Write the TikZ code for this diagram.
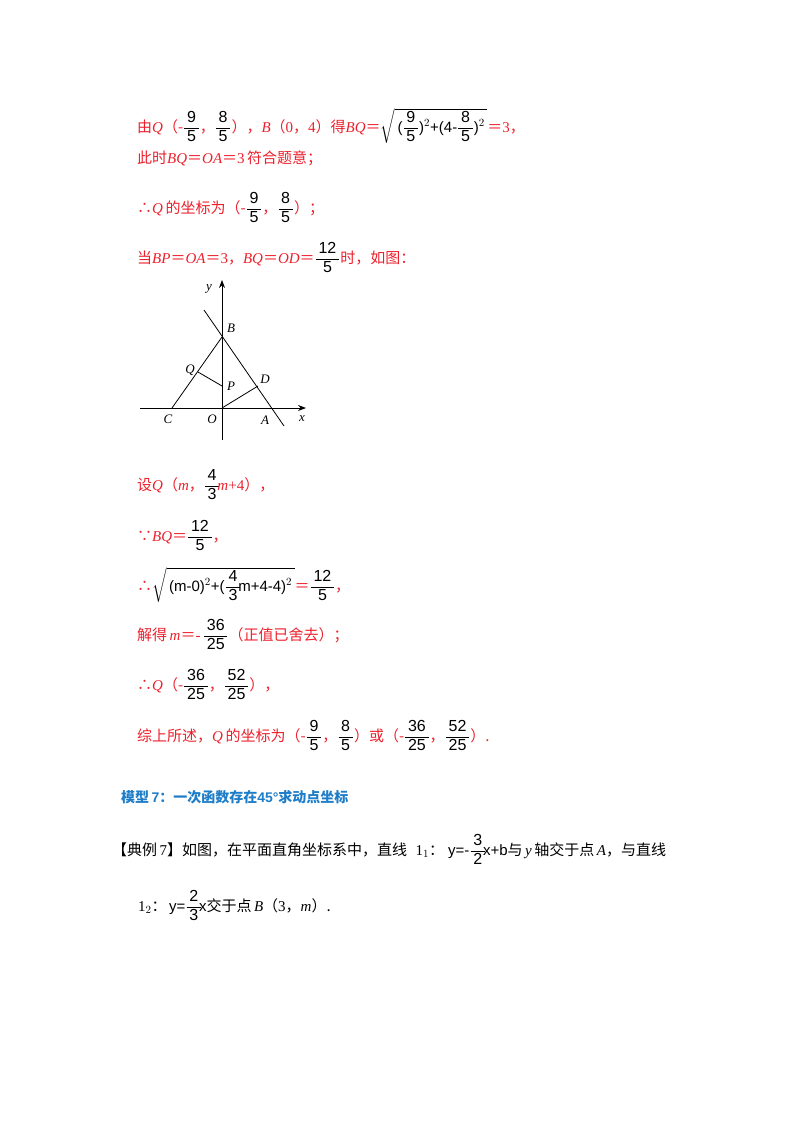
\documentclass[tikz,border=0pt]{standalone}
\usepackage{amsmath}
\usepackage{fontspec}
\setmainfont{Liberation Serif}
\setsansfont{Liberation Sans}
\newfontfamily\cjk{Noto Sans CJK SC}
\newfontfamily\cjkb{Noto Sans CJK SC Bold}
\usetikzlibrary{arrows.meta}
\definecolor{rd}{RGB}{236,32,44}
\definecolor{bl}{RGB}{30,125,200}
\newcommand\zh[1]{{\cjk #1}}
\newcommand\eq{\zh{＝}}
\newcommand\fr[2]{{\color{black}\setbox0\hbox{$\genfrac{}{}{0.6pt}{0}{\hbox{\sffamily\fontsize{16}{18}\selectfont\,#1\,}}{\hbox{\sffamily\fontsize{16}{18}\selectfont\,#2\,}}$}\raisebox{\dp0}{\box0}}}
\newcommand\rt[1]{{\color{black}$\sqrt{\hbox{\sffamily #1}}$}}
\begin{document}
\begin{tikzpicture}[x=1pt,y=-1pt,
 txt/.style={anchor=base west,inner sep=0pt,font=\fontsize{15}{17}\selectfont,text=rd},
 blk/.style={txt,text=black},
 lbl/.style={font=\fontsize{13}{15}\selectfont\itshape,inner sep=0pt},
 ln/.style={line width=0.8pt}]
\useasboundingbox (0,0) rectangle (800,1132);
\node[txt] (l1) at (137,132) {\zh{由}\textit{Q}\zh{（-}\fr{9}{5}\zh{，}\fr{8}{5}\zh{），}\textit{B}\zh{（}0\zh{，}4\zh{）得}\textit{BQ}\eq\rt{\,(\fr95)$^{2}$+(4-\fr85)$^{2}$\,}\eq 3\zh{，}};
\node[txt] (l2) at (137,163) {\zh{此时}\textit{BQ}\eq\textit{OA}\eq 3\,\zh{符合题意；}};
\node[txt] (l3) at (137,213) {\zh{∴}\textit{Q}\,\zh{的坐标为（-}\fr{9}{5}\zh{，}\fr{8}{5}\zh{）；}};
\node[txt] (l4) at (137,263) {\zh{当}\textit{BP}\eq\textit{OA}\eq 3\zh{，}\textit{BQ}\eq\textit{OD}\eq\fr{12}{5}\zh{时，如图：}};
% diagram
\coordinate (O) at (222,408);
\coordinate (B) at (222,337);
\coordinate (C) at (172,408);
\coordinate (Q) at (198,372);
\coordinate (P) at (222,386);
\coordinate (D) at (258,386);
\coordinate (E1) at (204,310);
\coordinate (E2) at (284,426);
\coordinate (yt) at (222,280);
\coordinate (yb) at (222,440);
\coordinate (xl) at (140,408);
\coordinate (xr) at (306,408);
\draw[ln,-{Stealth[length=8pt,width=6pt]}] (yb) -- (yt);
\draw[ln,-{Stealth[length=8pt,width=6pt]}] (xl) -- (xr);
\draw[ln] (E1) -- (E2);
\draw[ln] (C) -- (B);
\draw[ln] (Q) -- (P);
\draw[ln] (O) -- (D);
\node[lbl] (ly) at (209,289) {y};
\node[lbl] (lB) at (231,328) {B};
\node[lbl] (lQ) at (190,370) {Q};
\node[lbl] (lP) at (231,386) {P};
\node[lbl] (lD) at (265,379) {D};
\node[lbl] (lC) at (168,419) {C};
\node[lbl] (lO) at (212,419) {O};
\node[lbl] (lA) at (265,420) {A};
\node[lbl] (lx) at (302,419) {x};
% lower text
\node[txt] (l5) at (137,490) {\zh{设}\textit{Q}\zh{（}\textit{m}\zh{，}\fr{4}{3}\hspace{-3pt}\textit{m}+4\zh{），}};
\node[txt] (l6) at (137,541) {\zh{∵}\textit{BQ}\eq\fr{12}{5}\zh{，}};
\node[txt] (l7) at (137,591) {\zh{∴}\rt{\,(m-0)$^{2}$+(\fr43\hspace{-3pt}m+4-4)$^{2}$\,}\eq\fr{12}{5}\zh{，}};
\node[txt] (l8) at (137,640) {\zh{解得}\,\textit{m}\eq -\,\fr{36}{25}\zh{（正值已舍去）；}};
\node[txt] (l9) at (137,690) {\zh{∴}\textit{Q}\zh{（-}\fr{36}{25}\zh{，}\fr{52}{25}\zh{），}};
\node[txt] (l10) at (137,741) {\zh{综上所述，}\textit{Q}\,\zh{的坐标为（-}\fr{9}{5}\zh{，}\fr{8}{5}\zh{）或（-}\fr{36}{25}\zh{，}\fr{52}{25}\zh{）.}};
\node[txt,text=bl,font=\fontsize{14}{16}\selectfont\bfseries] (h) at (121,802) {{\cjkb 模型}\,\textsf{\textbf{7}}{\cjkb ：一次函数存在}\textsf{\textbf{45°}}{\cjkb 求动点坐标}};
\node[blk] (e1) at (112,855) {\zh{【典例}\,7\zh{】如图，在平面直角坐标系中，直线}\;\;1$_{1}$\zh{：}\;{\sffamily y=-\fr32\hspace{-3pt}x+b}\zh{与}\,\textit{y}\,\zh{轴交于点}\,\textit{A}\zh{，与直线}};
\node[blk] (e2) at (138,911) {1$_{2}$\zh{：}\,{\sffamily y=\fr23\hspace{-3pt}x}\zh{交于点}\,\textit{B}\zh{（}3\zh{，}\textit{m}\zh{）.}};
\end{tikzpicture}
\end{document}
